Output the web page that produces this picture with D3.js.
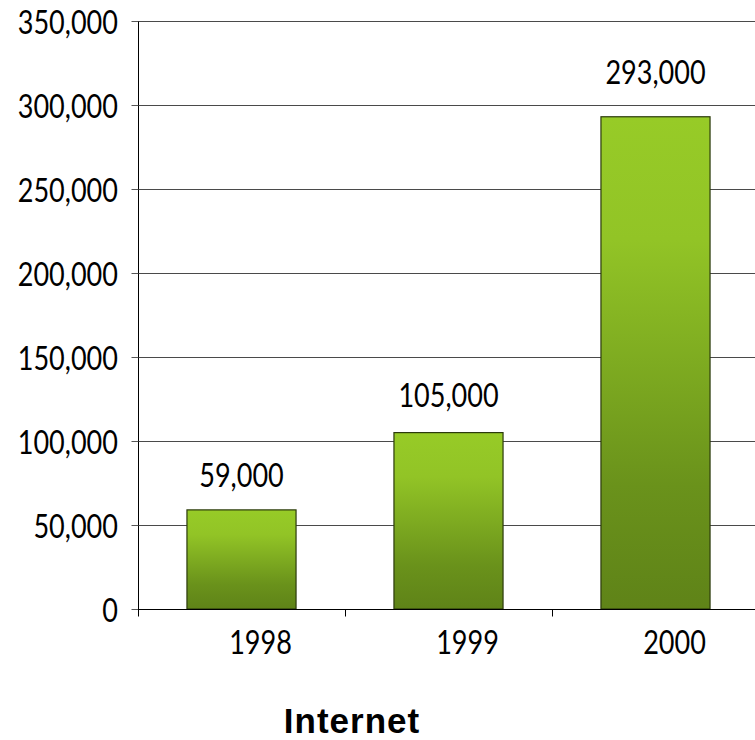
<!DOCTYPE html>
<html>
<head>
<meta charset="utf-8">
<script src="https://cdn.jsdelivr.net/npm/d3@7"></script>
<style>
  html, body { margin: 0; padding: 0; background: #fff; }
  svg { display: block; }
  .num { font-family: Lato, Roboto, sans-serif; font-size: 33px; fill: #000; }
  .title { font-family: "Liberation Sans", Arial, sans-serif; font-weight: bold; font-size: 35px; fill: #000; letter-spacing: 1px; }
</style>
</head>
<body>
<svg id="chart" width="755" height="740"></svg>
<script>
// Internet figures by year
const categories = ["1998", "1999", "2000"];
const values = [59000, 105000, 293000];
const yTicks = [0, 50000, 100000, 150000, 200000, 250000, 300000, 350000];
const chartTitle = "Internet";

const svg = d3.select("#chart");
const fmt = d3.format(",");
const squeeze = 0.82; // horizontal compression for the narrow numeric face

const plotLeft = 138, plotRight = 759, plotTop = 21, plotBottom = 609;

const x = d3.scaleBand()
  .domain(categories)
  .range([plotLeft, plotRight])
  .paddingInner(0.473)
  .paddingOuter(0.2365);

const y = d3.scaleLinear()
  .domain([0, 350000])
  .range([plotBottom, plotTop]);

// draws a horizontally condensed text anchored at (px, py)
function narrowText(sel, px, py, anchor, str) {
  sel.append("g")
    .attr("transform", `translate(${px},${py}) scale(${squeeze},1)`)
    .append("text")
    .attr("class", "num")
    .attr("text-anchor", anchor)
    .text(str);
}

// vertical gradient, light at the top of each bar to dark at its base
const defs = svg.append("defs");
const grad = defs.append("linearGradient")
  .attr("id", "barFill")
  .attr("x1", 0).attr("y1", 0).attr("x2", 0).attr("y2", 1);
grad.append("stop").attr("offset", "0%").attr("stop-color", "#97cb27");
grad.append("stop").attr("offset", "25%").attr("stop-color", "#92c426");
grad.append("stop").attr("offset", "75%").attr("stop-color", "#6a921b");
grad.append("stop").attr("offset", "100%").attr("stop-color", "#5f8318");

// horizontal gridlines
svg.append("g")
  .selectAll("line")
  .data(yTicks.filter(d => d > 0))
  .join("line")
  .attr("x1", plotLeft).attr("x2", 755)
  .attr("y1", d => Math.round(y(d)) + 0.5)
  .attr("y2", d => Math.round(y(d)) + 0.5)
  .attr("stroke", "#4a4a4a")
  .attr("stroke-width", 1);

// y axis line and ticks
const yAxis = svg.append("g")
  .attr("transform", `translate(${plotLeft + 0.5},0)`)
  .call(d3.axisLeft(y).tickValues(yTicks).tickFormat("").tickSize(7));
yAxis.select(".domain").attr("stroke", "#000").attr("d", `M0,${plotTop}V${plotBottom}`);
yAxis.selectAll(".tick line").attr("stroke", "#555");

// y tick labels
const yLabels = svg.append("g");
yTicks.forEach(t => narrowText(yLabels, 118, Math.round(y(t)) + 13, "end", fmt(t)));

// bars
svg.append("g")
  .selectAll("rect")
  .data(values)
  .join("rect")
  .attr("x", (d, i) => x(categories[i]))
  .attr("y", d => y(d))
  .attr("width", x.bandwidth())
  .attr("height", d => y(0) - y(d))
  .attr("fill", "url(#barFill)")
  .attr("stroke", "#2b3a0c")
  .attr("stroke-width", 1.2);

// x axis
const step = x.step();
const xAxis = svg.append("g")
  .attr("transform", `translate(0,${plotBottom + 0.5})`);
xAxis.append("line")
  .attr("x1", plotLeft).attr("x2", 755)
  .attr("stroke", "#000");
xAxis.selectAll("line.tk")
  .data(d3.range(categories.length + 1))
  .join("line")
  .attr("class", "tk")
  .attr("x1", i => plotLeft + 0.5 + i * step)
  .attr("x2", i => plotLeft + 0.5 + i * step)
  .attr("y1", 0).attr("y2", 7)
  .attr("stroke", "#000");
const xLabels = svg.append("g");
categories.forEach(c => narrowText(xLabels, x(c) + x.bandwidth() / 2 + 19, plotBottom + 45, "middle", c));

// value labels above bars
const valueLabels = svg.append("g");
values.forEach((v, i) => {
  const yTop = y(v);
  narrowText(valueLabels, x(categories[i]) + x.bandwidth() / 2, yTop - 21 - 0.024 * (y(0) - yTop), "middle", fmt(v));
});

// chart title
svg.append("text")
  .attr("class", "title")
  .attr("x", 352)
  .attr("y", 733)
  .attr("text-anchor", "middle")
  .text(chartTitle);
</script>
</body>
</html>
